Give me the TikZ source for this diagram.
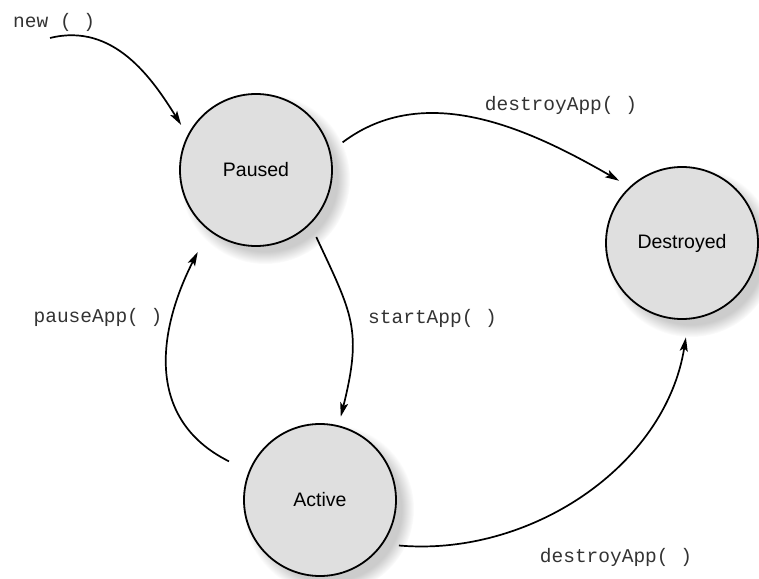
\documentclass[tikz,border=0pt]{standalone}
\usepackage{fontspec}
\setmainfont{Liberation Sans}
\setmonofont{Liberation Mono}
\usetikzlibrary{arrows.meta,positioning,shadows}

\begin{document}
\begin{tikzpicture}[x=1pt,y=1pt]
	% the three states and the method calls share their looks
	\tikzset{state/.style={draw,circle,line width=1.8pt,fill=gray!25,minimum size=152pt,inner sep=0pt,
			font=\fontsize{19.5}{22}\selectfont,
			circular drop shadow={shadow xshift=8pt,shadow yshift=-8pt,shadow scale=1.12,opacity=.4}},
		call/.style={font=\ttfamily\fontsize{19.5}{22}\selectfont,text=black!80,inner sep=0pt},
		trans/.style={line width=1.7pt,-{Stealth[length=14pt,width=8pt,inset=3pt]}},
	}
	\useasboundingbox (0,0) rectangle (759,578);
	\node[state] (paused) at (256,408) {Paused};
	\node[state] (destroyed) at (682,335) {Destroyed};
	\node[state] (active) at (320,78) {Active};
	% where the new() arrow comes from
	\coordinate (start) at (50,540);
	\node[call,anchor=west] (newcall) at (13,556) {new ( )};
	\node[call] (destroytop) at (561,473) {destroyApp( )};
	\node[call,anchor=west] (startcall) at (368,260) {startApp( )};
	\node[call] (pausecall) at (98,261) {pauseApp( )};
	\node[call] (destroybot) at (616,21) {destroyApp( )};
	% the transitions
	\draw[trans,shorten >=12pt] (start) to[out=14,in=122] (paused.153);
	\draw[trans,shorten <=15pt,shorten >=12pt] (paused.14) to[out=37,in=150] (destroyed.133);
	\draw[trans,shorten <=14pt,shorten >=9pt] (paused.-45) to[out=-65,in=76,looseness=1.25] (active.76);
	% pauseApp swings out to the left
	\draw[trans,shorten <=22pt,shorten >=24pt] (active.158) .. controls (142,160) and (160,252) .. (paused.232);
	\draw[trans,shorten <=16pt,shorten >=18pt] (active.-35) to[out=-5,in=-99] (destroyed.-85);
\end{tikzpicture}
\end{document}
